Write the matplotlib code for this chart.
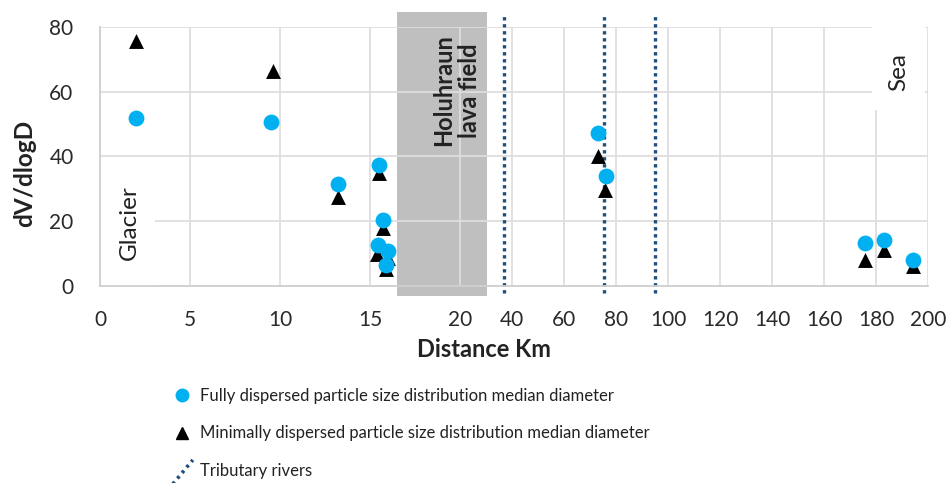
import numpy as np
import matplotlib
matplotlib.use("Agg")
import matplotlib.pyplot as plt
from matplotlib.legend_handler import HandlerBase
from matplotlib.lines import Line2D
from matplotlib.patches import Rectangle

plt.rcParams["font.family"] = ["Lato", "DejaVu Sans"]

# distance downstream (km) and dV/dlogD of the median diameter
fully_km = [2.0, 9.5, 13.2, 15.5, 15.7, 15.45, 16.0, 15.9, 72.9, 76.2, 175.8, 183.1, 194.1]
fully_val = [51.8, 50.8, 31.5, 37.5, 20.5, 12.8, 10.7, 6.5, 47.3, 34.0, 13.4, 14.2, 8.0]
minimal_km = [2.0, 9.6, 13.2, 15.5, 15.7, 15.4, 16.0, 15.9, 73.2, 75.6, 175.8, 183.1, 194.1]
minimal_val = [75.7, 66.4, 27.6, 34.9, 17.9, 9.8, 8.7, 5.2, 40.1, 29.7, 8.0, 11.1, 6.2]
tributary_km = [36.9, 75.4, 95.0]
lava_field_km = (16.5, 30.4)

x_ticks = [0, 5, 10, 15, 20, 40, 60, 80, 100, 120, 140, 160, 180, 200]
y_ticks = [0, 20, 40, 60, 80]

BLUE = "#00b0f0"
DOT_BLUE = "#1f4e79"
GRID = "#dedede"
DOTS = (0, (1.0, 1.1))

# axis is stretched for the first 20 km, compressed afterwards
K = 2.6 / 18


def forward(x):
    x = np.asarray(x, dtype=float)
    return np.where(x <= 20, x, 20 + (x - 20) * K)


def inverse(x):
    x = np.asarray(x, dtype=float)
    return np.where(x <= 20, x, 20 + (x - 20) / K)


class DiagonalHandler(HandlerBase):
    """Draw the tributary legend key as a slanted dotted line."""

    def create_artists(self, legend, orig_handle, xdescent, ydescent,
                       width, height, fontsize, trans):
        cy = height / 2 - ydescent
        x0 = -xdescent
        line = Line2D([x0, x0 + width], [cy - 1.3 * height, cy + 0.85 * height],
                      color=orig_handle.get_color(),
                      linewidth=orig_handle.get_linewidth(),
                      linestyle=(0, (0.8, 1.2)),
                      dash_capstyle="butt")
        line.set_transform(trans)
        return [line]


fig = plt.figure(figsize=(9.52, 4.83), dpi=100)
ax = fig.add_axes([0.105, 0.408, 0.870, 0.536])
ax.set_xscale("function", functions=(forward, inverse))
ax.set_xlim(0, 200)
ax.set_ylim(0, 80)
ax.set_xticks(x_ticks)
ax.set_xticklabels([str(t) for t in x_ticks])
ax.set_yticks(y_ticks)
ax.set_axisbelow(True)
ax.grid(True, color=GRID, linewidth=1.3)

for side in ("top", "right"):
    ax.spines[side].set_visible(False)
for side in ("left", "bottom"):
    ax.spines[side].set_color("#cfcfcf")
    ax.spines[side].set_linewidth(1.3)

ax.tick_params(axis="both", length=0, labelsize=15, colors="#2a2a2a")
ax.tick_params(axis="x", pad=17)
ax.tick_params(axis="y", pad=19)

# lava field band, running a little past the plot frame
ax.axvspan(*lava_field_km, ymin=-0.039, ymax=1.058, color="#bfbfbf",
           zorder=0.3, clip_on=False, linewidth=0)

for km in tributary_km:
    ax.axvline(km, ymin=-0.027, ymax=1.046, color=DOT_BLUE, linewidth=2.4,
               linestyle=DOTS, dash_capstyle="butt",
               clip_on=False, zorder=2)

# white label boxes
ax.add_patch(Rectangle((0, 0), 0.066, 0.498, transform=ax.transAxes,
                       facecolor="white", edgecolor="none", zorder=1))
ax.add_patch(Rectangle((0.932, 0.68), 0.064, 0.32, transform=ax.transAxes,
                       facecolor="white", edgecolor="none", zorder=1))

ax.text(0.036, 0.243, "Glacier", transform=ax.transAxes, rotation=90,
        ha="center", va="center", fontsize=17.5, color="#222222", zorder=4)
ax.text(0.964, 0.826, "Sea", transform=ax.transAxes, rotation=90,
        ha="center", va="center", fontsize=17.5, color="#222222", zorder=4)
ax.text(0.431, 0.756, "Holuhraun\nlava field", transform=ax.transAxes,
        rotation=90, ha="center", va="center", multialignment="center",
        fontsize=17, fontweight="bold", color="#222222", linespacing=1.15,
        zorder=4)

tri = ax.scatter(minimal_km, minimal_val, marker="^", s=115, color="black",
                 linewidths=0, zorder=3)
circ = ax.scatter(fully_km, fully_val, marker="o", s=130, color=BLUE,
                  linewidths=0, zorder=3)

ax.set_xlabel("Distance Km", fontsize=17, fontweight="bold", color="#222222")
ax.set_ylabel("dV/dlogD", fontsize=17.5, fontweight="bold", color="#222222")
ax.xaxis.set_label_coords(0.464, -0.247)
ax.xaxis.label.set_va("center")
ax.yaxis.set_label_coords(-0.0906, 0.434)
ax.yaxis.label.set_va("center")

circ_key = Line2D([], [], marker="o", linestyle="none", color=BLUE,
                  markersize=9)
tri_key = Line2D([], [], marker="^", linestyle="none", color="black",
                 markersize=9)
trib_key = Line2D([], [], color=DOT_BLUE, linewidth=2.6, linestyle=DOTS)

fig.legend(
    [circ_key, tri_key, trib_key],
    ["Fully dispersed particle size distribution median diameter",
     "Minimally dispersed particle size distribution median diameter",
     "Tributary rivers"],
    handler_map={trib_key: DiagonalHandler()},
    loc="upper left",
    bbox_to_anchor=(172 / 952, 1 - 388 / 483),
    frameon=False,
    fontsize=12,
    handlelength=1.25,
    handletextpad=0.4,
    labelspacing=1.28,
    borderpad=0,
    borderaxespad=0,
    labelcolor="#222222",
)

fig.savefig("out.png", dpi=100)
